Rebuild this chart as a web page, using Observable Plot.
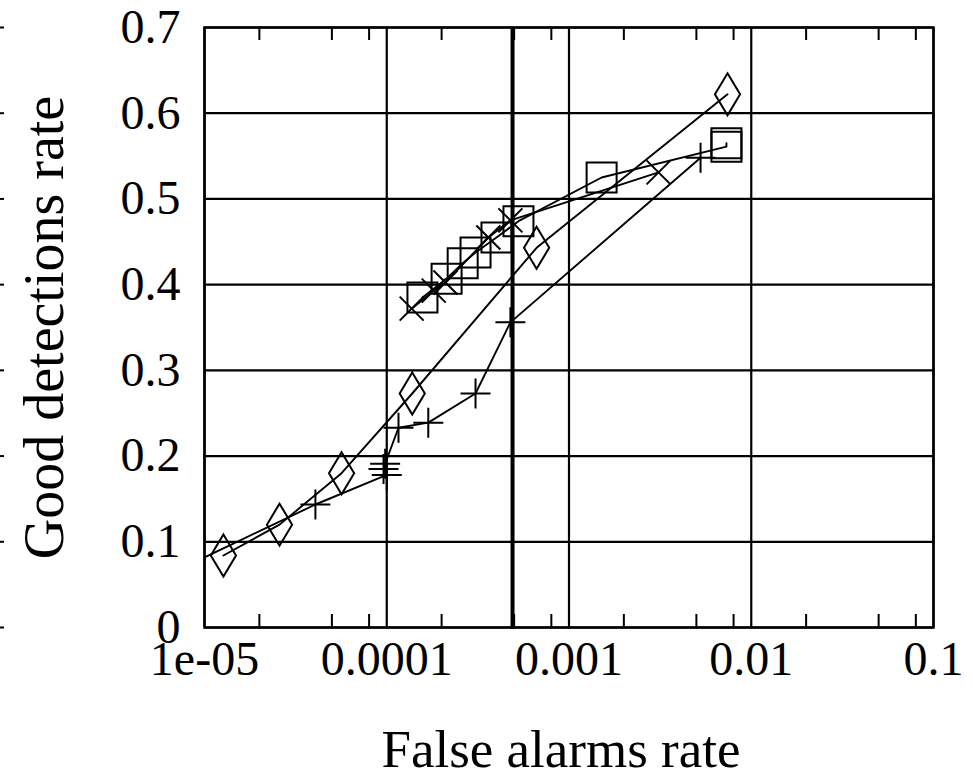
<!DOCTYPE html>
<html>
<head>
<meta charset="utf-8">
<script src="https://cdn.jsdelivr.net/npm/d3@7"></script>
<script src="https://cdn.jsdelivr.net/npm/@observablehq/plot@0.6"></script>
<style>
  html, body { margin: 0; padding: 0; background: white; }
</style>
</head>
<body>
<div id="chart"></div>
<script>
// ---- axis ticks ----
const xMajor = [1e-5, 1e-4, 1e-3, 1e-2, 1e-1];
const xTickLabels = ["1e-05", "0.0001", "0.001", "0.01", "0.1"];
const xMinor = [2e-5, 5e-5, 8e-5, 2e-4, 5e-4, 8e-4, 2e-3, 5e-3, 8e-3, 2e-2, 5e-2, 8e-2];
const yTicks = [0, 0.1, 0.2, 0.3, 0.4, 0.5, 0.6, 0.7];
const yTickLabels = ["0", "0.1", "0.2", "0.3", "0.4", "0.5", "0.6", "0.7"];
const thresholdX = [4.9e-4];

// ---- series ----
const diamondX = [1.27e-5, 2.58e-5, 5.65e-5, 1.38e-4, 6.64e-4, 7.41e-3];
const diamondY = [0.084, 0.120, 0.180, 0.273, 0.443, 0.622];

const plusX = [8e-6, 4.06e-5, 1.0e-4, 9.6e-5, 9.8e-5, 1.16e-4, 1.69e-4, 3.07e-4, 4.77e-4, 5.27e-3];
const plusY = [0.072, 0.1435, 0.178, 0.185, 0.191, 0.233, 0.239, 0.273, 0.356, 0.548];

const squareX = [1.57e-4, 2.13e-4, 2.61e-4, 3.07e-4, 4.0e-4, 5.28e-4, 1.51e-3, 7.31e-3, 7.31e-3];
const squareY = [0.385, 0.407, 0.425, 0.4375, 0.455, 0.474, 0.525, 0.561, 0.565];

const crossX = [1.37e-4, 1.81e-4, 2.10e-4, 3.61e-4, 4.77e-4, 3.10e-3];
const crossY = [0.372, 0.393, 0.4025, 0.455, 0.475, 0.531];

const toRows = (xs, ys) => xs.map((x, i) => ({x, y: ys[i]}));
const diamonds = toRows(diamondX, diamondY);
const pluses = toRows(plusX, plusY);
const squares = toRows(squareX, squareY);
const crosses = toRows(crossX, crossY);

// ---- custom open symbols (gnuplot-like) ----
const rOf = (size) => Math.sqrt(size / Math.PI);
const tallDiamond = {draw(c, size) { const r = rOf(size); c.moveTo(0, -r); c.lineTo(0.6 * r, 0); c.lineTo(0, r); c.lineTo(-0.6 * r, 0); c.closePath(); }};
const openSquare = {draw(c, size) { const r = rOf(size); c.rect(-r, -r, 2 * r, 2 * r); }};
const plusSym = {draw(c, size) { const r = rOf(size); c.moveTo(-r, 0); c.lineTo(r, 0); c.moveTo(0, -r); c.lineTo(0, r); }};
const timesSym = {draw(c, size) { const r = rOf(size); c.moveTo(-r, -r); c.lineTo(r, r); c.moveTo(-r, r); c.lineTo(r, -r); }};

const xLabelMap = new Map(xMajor.map((d, i) => [d, xTickLabels[i]]));
const yLabelMap = new Map(yTicks.map((d, i) => [d, yTickLabels[i]]));

const lineStyle = {x: "x", y: "y", stroke: "black", strokeWidth: 1.9, clip: true};
const dotStyle = {x: "x", y: "y", stroke: "black", fill: "none", strokeWidth: 2, clip: true};

const chart = Plot.plot({
  width: 973,
  height: 780,
  marginLeft: 204,
  marginRight: 40,
  marginTop: 27,
  marginBottom: 153,
  style: {fontFamily: "'Liberation Serif', 'DejaVu Serif', serif", fontSize: "48px", color: "black", background: "white", overflow: "visible"},
  x: {type: "log", domain: [1e-5, 0.1], axis: null},
  y: {domain: [0, 0.7], axis: null},
  marks: [
    Plot.ruleX(xMajor, {stroke: "black", strokeWidth: 2.2}),
    Plot.ruleY(yTicks, {stroke: "black", strokeWidth: 2.2}),
    Plot.ruleX(xMinor, {stroke: "black", strokeWidth: 2, insetBottom: 587}),
    Plot.ruleX(xMinor, {stroke: "black", strokeWidth: 2, insetTop: 587}),
    Plot.frame({stroke: "black", strokeWidth: 2.5}),
    Plot.ruleX(thresholdX, {stroke: "black", strokeWidth: 4, insetBottom: -2}),
    Plot.line(diamonds, lineStyle),
    Plot.line(pluses, lineStyle),
    Plot.line(squares, lineStyle),
    Plot.line(crosses, lineStyle),
    Plot.dot(diamonds, {...dotStyle, symbol: tallDiamond, r: 21}),
    Plot.dot(pluses, {...dotStyle, symbol: plusSym, r: 15}),
    Plot.dot(squares, {...dotStyle, symbol: openSquare, r: 15}),
    Plot.dot(crosses, {...dotStyle, symbol: timesSym, r: 12}),
    Plot.axisX(xMajor, {anchor: "bottom", tickSize: 0, tickPadding: 13, tickFormat: d => xLabelMap.get(d), label: null, fontSize: 48}),
    Plot.axisY(yTicks, {anchor: "left", tickSize: 0, tickPadding: 24, tickFormat: d => yLabelMap.get(d), label: null, fontSize: 48}),
    Plot.tickY(yTicks, {y: d => d, stroke: "black", strokeWidth: 2, insetRight: 725, dx: -204}),
    Plot.text(["False alarms rate"], {frameAnchor: "bottom", dy: 123, dx: -8, fontSize: 53, textAnchor: "middle", lineAnchor: "middle"}),
    Plot.text(["Good detections rate"], {frameAnchor: "left", dx: -159, rotate: -90, fontSize: 56, textAnchor: "middle", lineAnchor: "middle"})
  ]
});
document.getElementById("chart").appendChild(chart);
</script>
</body>
</html>
